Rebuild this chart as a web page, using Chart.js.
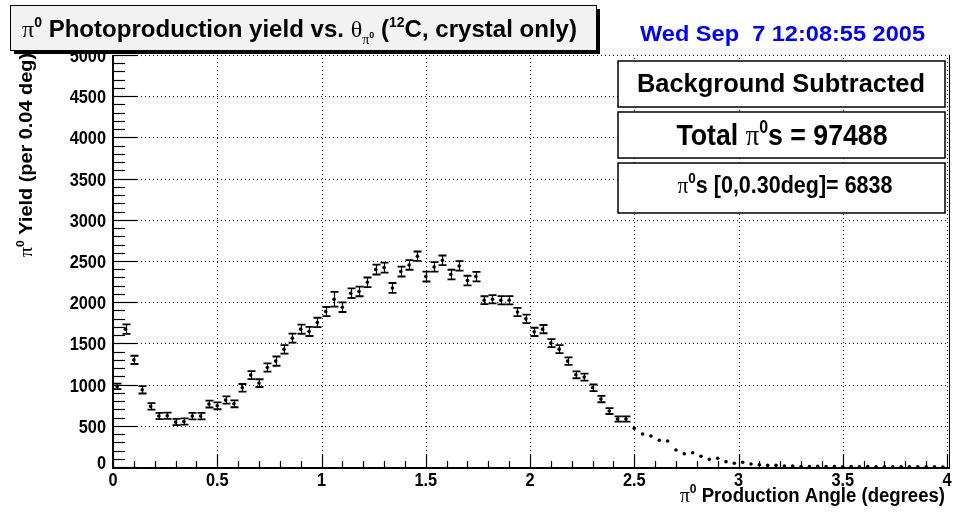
<!DOCTYPE html>
<html>
<head>
<meta charset="utf-8">
<title>pi0 photoproduction yield</title>
<script src="https://cdn.jsdelivr.net/npm/chart.js@4.4.0/dist/chart.umd.min.js"></script>
<style>
  html, body { margin: 0; padding: 0; background: #fff; }
  #wrap { width: 958px; height: 512px; }
</style>
</head>
<body>
<div id="wrap"><canvas id="yieldChart" width="958" height="512"></canvas></div>
<script>
// bin centres (deg), 0.04 deg bins
const binCenters = [
  0.02, 0.06, 0.10, 0.14, 0.18, 0.22, 0.26, 0.30, 0.34, 0.38,
  0.42, 0.46, 0.50, 0.54, 0.58, 0.62, 0.66, 0.70, 0.74, 0.78,
  0.82, 0.86, 0.90, 0.94, 0.98, 1.02, 1.06, 1.10, 1.14, 1.18,
  1.22, 1.26, 1.30, 1.34, 1.38, 1.42, 1.46, 1.50, 1.54, 1.58,
  1.62, 1.66, 1.70, 1.74, 1.78, 1.82, 1.86, 1.90, 1.94, 1.98,
  2.02, 2.06, 2.10, 2.14, 2.18, 2.22, 2.26, 2.30, 2.34, 2.38,
  2.42, 2.46, 2.50, 2.54, 2.58, 2.62, 2.66, 2.70, 2.74, 2.78,
  2.82, 2.86, 2.90, 2.94, 2.98, 3.02, 3.06, 3.10, 3.14, 3.18,
  3.22, 3.26, 3.30, 3.34, 3.38, 3.42, 3.46, 3.50, 3.54, 3.58,
  3.62, 3.66, 3.70, 3.74, 3.78, 3.82, 3.86, 3.90, 3.94, 3.98
];

// background subtracted yield per bin
const yieldValues = [
  978, 1673, 1300, 937, 736, 618, 622, 545, 553, 618,
  618, 764, 743, 812, 767, 961, 1115, 1018, 1208, 1285,
  1427, 1564, 1673, 1645, 1754, 1887, 2036, 1939, 2109, 2130,
  2242, 2396, 2420, 2173, 2372, 2452, 2558, 2311, 2428, 2509,
  2336, 2440, 2263, 2311, 2024, 2036, 2024, 2024, 1880, 1798,
  1640, 1673, 1503, 1430, 1285, 1119, 1091, 961, 824, 679,
  582, 582, 469, 400, 376, 324, 315, 206, 161, 173,
  130, 93, 105, 65, 45, 57, 36, 28, 20, 20,
  12, 12, 6, 5, 8, 4, 6, 3, 5, 3,
  4, 2, 3, 2, 3, 1, 2, 1, 1, 0
];

// statistical errors (0 = no bar drawn)
const yieldErrors = [
  34, 57, 50, 45, 40, 38, 38, 38, 38, 40,
  40, 42, 42, 44, 42, 46, 48, 47, 50, 56,
  52, 54, 56, 55, 57, 55, 89, 58, 58, 58,
  58, 60, 60, 60, 60, 58, 57, 60, 58, 58,
  58, 58, 58, 58, 48, 50, 50, 50, 50, 52,
  50, 50, 48, 48, 45, 42, 42, 40, 38, 36,
  32, 32, 0, 0, 0, 0, 0, 0, 0, 0,
  0, 0, 0, 0, 0, 0, 0, 0, 0, 0,
  0, 0, 0, 0, 0, 0, 0, 0, 0, 0,
  0, 0, 0, 0, 0, 0, 0, 0, 0, 0
];

const xTickValues = [0, 0.5, 1, 1.5, 2, 2.5, 3, 3.5, 4];
const xTickLabels = ['0', '0.5', '1', '1.5', '2', '2.5', '3', '3.5', '4'];
const yTickValues = [0, 500, 1000, 1500, 2000, 2500, 3000, 3500, 4000, 4500, 5000];
const yTickLabels = ['0', '500', '1000', '1500', '2000', '2500', '3000', '3500', '4000', '4500', '5000'];

const SANS = '"Liberation Sans", Arial, sans-serif';
const SERIF = '"Liberation Serif", "DejaVu Serif", serif';

// draw a run of text pieces [text, font, dy]; width > 0 fits it to that width,
// width < 0 is used as a plain horizontal squeeze factor
function drawRich(ctx, runs, x, y, width, align, color) {
  ctx.save();
  let natural = 0;
  runs.forEach(r => { ctx.font = r[1]; natural += ctx.measureText(r[0]).width; });
  const sx = width > 0 ? width / natural : (width < 0 ? -width : 1);
  let start = x;
  if (align === 'center') start = x - natural * sx / 2;
  if (align === 'right') start = x - natural * sx;
  ctx.translate(start, y);
  ctx.scale(sx, 1);
  ctx.fillStyle = color || '#000';
  ctx.textAlign = 'left';
  ctx.textBaseline = 'alphabetic';
  let cx = 0;
  runs.forEach(r => {
    ctx.font = r[1];
    ctx.fillText(r[0], cx, r[2] || 0);
    cx += ctx.measureText(r[0]).width;
  });
  ctx.restore();
}

function labelBox(ctx, x, y, w, h) {
  ctx.save();
  ctx.fillStyle = '#fff';
  ctx.fillRect(x, y, w, h);
  ctx.strokeStyle = '#000';
  ctx.lineWidth = 1.5;
  ctx.strokeRect(x, y, w, h);
  ctx.restore();
}

const rootFrame = {
  id: 'rootFrame',
  beforeDatasetsDraw(chart) {
    const ctx = chart.ctx;
    const xs = chart.scales.x, ys = chart.scales.y;
    const a = chart.chartArea;
    ctx.save();

    // dotted grid
    ctx.strokeStyle = '#000';
    ctx.lineWidth = 1;
    ctx.setLineDash([1, 3]);
    xTickValues.forEach(v => {
      if (v === 0) return;
      const px = Math.round(xs.getPixelForValue(v)) + 0.5;
      ctx.beginPath(); ctx.moveTo(px, a.bottom); ctx.lineTo(px, a.top); ctx.stroke();
    });
    yTickValues.forEach(v => {
      if (v === 0) return;
      const py = Math.round(ys.getPixelForValue(v)) + 0.5;
      ctx.beginPath(); ctx.moveTo(a.left, py); ctx.lineTo(a.right, py); ctx.stroke();
    });
    ctx.setLineDash([]);

    // right frame edge
    ctx.beginPath(); ctx.moveTo(a.right + 2.5, a.top); ctx.lineTo(a.right + 2.5, a.bottom); ctx.stroke();

    // x axis with inward ticks
    ctx.lineWidth = 1.2;
    for (let k = 0; k <= 40; k++) {
      const px = Math.round(xs.getPixelForValue(k / 10)) + 0.5;
      const len = k % 5 === 0 ? 13 : 6;
      ctx.beginPath(); ctx.moveTo(px, a.bottom); ctx.lineTo(px, a.bottom - len); ctx.stroke();
    }
    // y axis with inward ticks
    for (let k = 0; k <= 50; k++) {
      const py = Math.round(ys.getPixelForValue(k * 100)) + 0.5;
      const len = k % 5 === 0 ? 24 : 12;
      ctx.beginPath(); ctx.moveTo(a.left, py); ctx.lineTo(a.left + len, py); ctx.stroke();
    }
    ctx.lineWidth = 2;
    ctx.beginPath();
    ctx.moveTo(a.left, a.top); ctx.lineTo(a.left, a.bottom + 1); ctx.lineTo(a.right + 3, a.bottom + 1);
    ctx.stroke();

    // error bars
    binCenters.forEach((c, i) => {
      const e = yieldErrors[i];
      if (!e) return;
      const px = Math.round(xs.getPixelForValue(c)) + 0.5;
      const hi = ys.getPixelForValue(yieldValues[i] + e);
      const lo = ys.getPixelForValue(yieldValues[i] - e);
      ctx.lineWidth = 1.2;
      ctx.beginPath(); ctx.moveTo(px, hi); ctx.lineTo(px, lo); ctx.stroke();
      ctx.lineWidth = 1.8;
      ctx.beginPath();
      ctx.moveTo(px - 4, hi); ctx.lineTo(px + 4, hi);
      ctx.moveTo(px - 4, lo); ctx.lineTo(px + 4, lo);
      ctx.stroke();
    });
    ctx.restore();
  },
  afterDraw(chart) {
    const ctx = chart.ctx;
    const xs = chart.scales.x, ys = chart.scales.y;
    const a = chart.chartArea;
    ctx.save();

    // tick labels, condensed bold like the original
    const tickFont = 'bold 19px ' + SANS;
    xTickValues.forEach((v, i) => {
      drawRich(ctx, [[xTickLabels[i], tickFont]], xs.getPixelForValue(v), a.bottom + 19, -0.86, 'center');
    });
    yTickValues.forEach((v, i) => {
      const py = v === 0 ? ys.getPixelForValue(v) + 2 : ys.getPixelForValue(v) + 7;
      drawRich(ctx, [[yTickLabels[i], tickFont]], a.left - 7, py, -0.86, 'right');
    });

    // axis titles
    drawRich(ctx, [
      ['\u03c0', '21px ' + SERIF],
      ['0', 'bold 13px ' + SANS, -9],
      [' Production Angle (degrees)', 'bold 20px ' + SANS]
    ], 945, 502, 265, 'right');

    ctx.save();
    ctx.translate(32, 257);
    ctx.rotate(-Math.PI / 2);
    drawRich(ctx, [
      ['\u03c0', '18px ' + SERIF],
      ['0', 'bold 11px ' + SANS, -8],
      [' Yield (per 0.04 deg)', 'bold 18px ' + SANS]
    ], 0, 0, 204, 'left');
    ctx.restore();

    // title box with shadow
    ctx.fillStyle = '#000';
    ctx.fillRect(14, 9, 586, 45);
    ctx.fillStyle = '#f2f2f2';
    ctx.fillRect(10, 5, 586, 45);
    ctx.strokeStyle = '#000';
    ctx.lineWidth = 1;
    ctx.strokeRect(10.5, 5.5, 586, 45);
    drawRich(ctx, [
      ['\u03c0', '24px ' + SERIF],
      ['0', 'bold 14px ' + SANS, -10],
      [' Photoproduction yield vs. ', 'bold 24px ' + SANS],
      ['\u03b8', '24px ' + SERIF],
      ['\u03c0', '14px ' + SERIF, 7],
      ['0', 'bold 9px ' + SANS, 1],
      [' (', 'bold 24px ' + SANS],
      ['12', 'bold 14px ' + SANS, -10],
      ['C, crystal only)', 'bold 24px ' + SANS]
    ], 22, 37, 555, 'left');

    // date stamp
    drawRich(ctx, [['Wed Sep  7 12:08:55 2005', 'bold 22px ' + SANS]], 640, 41, 285, 'left', '#0000ff');

    // info boxes
    labelBox(ctx, 618, 61, 327, 46);
    drawRich(ctx, [['Background Subtracted', 'bold 25px ' + SANS]], 781, 92, 288, 'center');
    labelBox(ctx, 618, 112, 327, 46);
    drawRich(ctx, [
      ['Total ', 'bold 30px ' + SANS],
      ['\u03c0', '30px ' + SERIF],
      ['0', 'bold 18px ' + SANS, -12],
      ['s = 97488', 'bold 30px ' + SANS]
    ], 782, 145, 211, 'center');
    labelBox(ctx, 618, 163, 327, 50);
    drawRich(ctx, [
      ['\u03c0', '24px ' + SERIF],
      ['0', 'bold 15px ' + SANS, -10],
      ['s [0,0.30deg]= 6838', 'bold 24px ' + SANS]
    ], 785, 193, 215, 'center');

    ctx.restore();
  }
};

new Chart(document.getElementById('yieldChart'), {
  type: 'scatter',
  data: {
    datasets: [{
      label: 'yield',
      data: binCenters.map((x, i) => ({ x: x, y: yieldValues[i] })),
      pointRadius: 1.8,
      pointBackgroundColor: '#000',
      pointBorderColor: '#000',
      pointBorderWidth: 0,
      showLine: false
    }]
  },
  options: {
    responsive: false,
    animation: false,
    devicePixelRatio: 1,
    layout: { padding: { left: 113, right: 11, top: 55, bottom: 45 } },
    scales: {
      x: { type: 'linear', min: 0, max: 4, display: false },
      y: { type: 'linear', min: 0, max: 5000, display: false }
    },
    plugins: { legend: { display: false }, tooltip: { enabled: false } }
  },
  plugins: [rootFrame]
});
</script>
</body>
</html>
